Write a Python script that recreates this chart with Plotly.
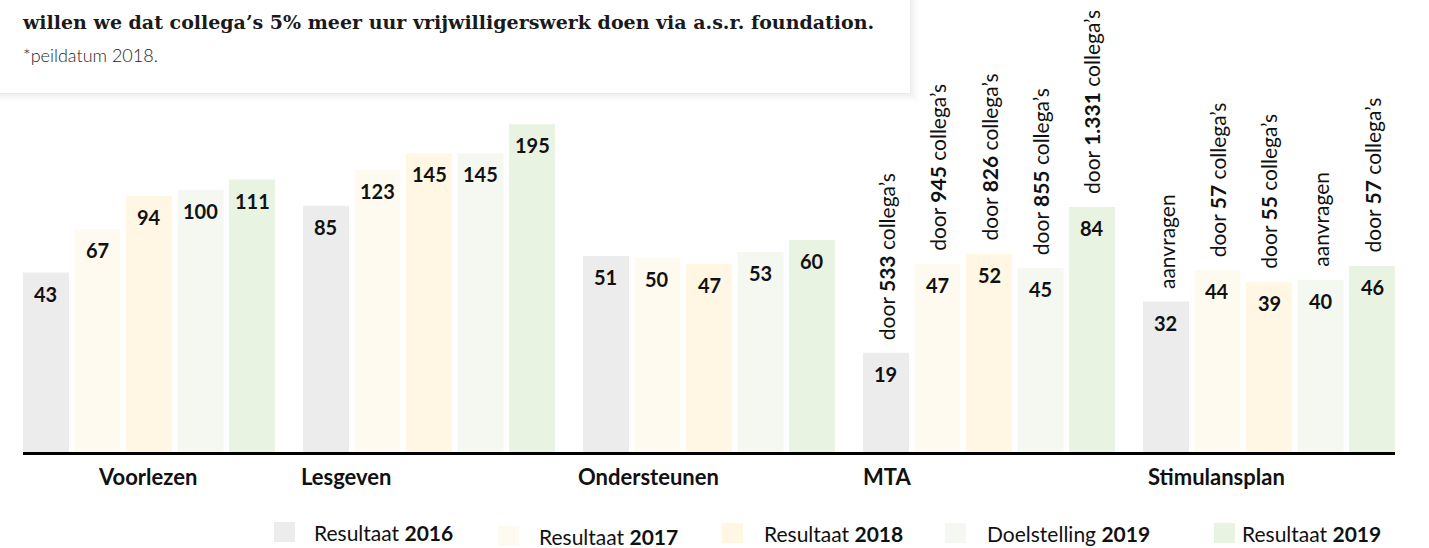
import math
import plotly.graph_objects as go

# ---------------- data ----------------
categories = ["Voorlezen", "Lesgeven", "Ondersteunen", "MTA", "Stimulansplan"]
series_names = ["Resultaat <b>2016</b>", "Resultaat <b>2017</b>", "Resultaat <b>2018</b>",
                "Doelstelling <b>2019</b>", "Resultaat <b>2019</b>"]
res_2016 = [43, 85, 51, 19, 32]
res_2017 = [67, 123, 50, 47, 44]
res_2018 = [94, 145, 47, 52, 39]
doel_2019 = [100, 145, 53, 45, 40]
res_2019 = [111, 195, 60, 84, 46]
mta_notes = ["door <b>533</b> collega’s", "door <b>945</b> collega’s", "door <b>826</b> collega’s",
             "door <b>855</b> collega’s", "door <b>1.331</b> collega’s"]
stim_notes = ["aanvragen", "door <b>57</b> collega’s", "door <b>55</b> collega’s",
              "aanvragen", "door <b>57</b> collega’s"]
header_text = "willen we dat collega’s 5% meer uur vrijwilligerswerk doen via a.s.r. foundation."
footnote_text = "*peildatum 2018."

series_values = [res_2016, res_2017, res_2018, doel_2019, res_2019]
colors = ["#ececec", "#fffaf0", "#fff6e4", "#f4f8f1", "#e9f3e1"]

# ---------------- layout constants ----------------
W, H = 1429, 548
ML, MR, MT, MB = 23, 34, 100, 96
PW, PH = W - ML - MR, H - MT - MB
BARGAP = 0.08
BARGROUPGAP = 0.107
NS = len(series_values)
slot = (1 - BARGAP) / NS


def px_x(px):
    return (px - ML) / PW


def px_y(py):
    return (H - MB - py) / PH


TEXT_FONT = "Lato"
INK = "#111111"

fig = go.Figure()
for name, vals, col in zip(series_names, series_values, colors):
    fig.add_trace(go.Bar(x=categories, y=vals, name=name, marker=dict(color=col, line=dict(width=0)),
                         hoverinfo="skip", showlegend=False))

annotations = []
shapes = []

# value labels inside bars
for j, vals in enumerate(series_values):
    for i, v in enumerate(vals):
        annotations.append(dict(
            x=i + (j - (NS - 1) / 2) * slot, y=math.log10(v), xref="x", yref="y",
            text=f"<b>{v}</b>", showarrow=False, yanchor="middle", xanchor="center",
            yshift=-21, font=dict(family=TEXT_FONT, size=20, color=INK)))

# rotated notes above bars
for ci, notes in ((3, mta_notes), (4, stim_notes)):
    for j, note in enumerate(notes):
        v = series_values[j][ci]
        annotations.append(dict(
            x=ci + (j - (NS - 1) / 2) * slot, y=math.log10(v), xref="x", yref="y",
            text=note, showarrow=False, textangle=-90, yanchor="bottom", xanchor="center",
            yshift=11, font=dict(family=TEXT_FONT, size=21, color=INK)))

# category labels
cat_label_px = [147, 346, 648, 887, 1216]
for name, cx in zip(categories, cat_label_px):
    annotations.append(dict(
        x=px_x(cx), y=px_y(476), xref="paper", yref="paper", text=f"<b>{name}</b>",
        showarrow=False, xanchor="center", yanchor="middle",
        font=dict(family=TEXT_FONT, size=22, color=INK)))

# manual legend (swatch + label)
legend_swatch_px = [274, 498, 722, 945, 1214]
legend_text_px = [312, 537, 762, 985, 1240]
legend_y_px = [532, 536, 533, 533, 533]
for name, col, sx, tx, ly in zip(series_names, colors, legend_swatch_px, legend_text_px, legend_y_px):
    shapes.append(dict(type="rect", xref="paper", yref="paper",
                       x0=px_x(sx), x1=px_x(sx + 21), y0=px_y(ly + 10), y1=px_y(ly - 10),
                       fillcolor=col, line=dict(width=0)))
    annotations.append(dict(
        x=px_x(tx), y=px_y(ly), xref="paper", yref="paper", text=name,
        showarrow=False, xanchor="left", yanchor="middle",
        font=dict(family=TEXT_FONT, size=21, color=INK)))

# header box text
annotations.append(dict(
    x=px_x(20), y=px_y(22), xref="paper", yref="paper", text=f"<b>{header_text}</b>",
    showarrow=False, xanchor="left", yanchor="middle",
    font=dict(family="DejaVu Serif", size=19, color="#1a1a1a")))
annotations.append(dict(
    x=px_x(21), y=px_y(55), xref="paper", yref="paper", text=footnote_text,
    showarrow=False, xanchor="left", yanchor="middle",
    font=dict(family=TEXT_FONT, size=18, color="#1e1e1e", weight=300)))

# soft shadow for the header box
for k, op in ((9, 0.008), (7, 0.012), (5, 0.016), (3, 0.02), (1, 0.025)):
    shapes.append(dict(type="rect", xref="paper", yref="paper",
                       x0=px_x(-10), x1=px_x(910 + k), y0=px_y(93 + k), y1=px_y(-10),
                       fillcolor=f"rgba(0,0,0,{op})", line=dict(width=0), layer="below"))
shapes.append(dict(type="rect", xref="paper", yref="paper",
                   x0=px_x(-10), x1=px_x(910), y0=px_y(93), y1=px_y(-10),
                   fillcolor="white", line=dict(width=0), layer="below"))

fig.update_layout(
    width=W, height=H,
    margin=dict(l=ML, r=MR, t=MT, b=MB, autoexpand=False),
    paper_bgcolor="white", plot_bgcolor="rgba(0,0,0,0)",
    barmode="group", bargap=BARGAP, bargroupgap=BARGROUPGAP,
    showlegend=False,
    xaxis=dict(type="category", range=[-0.45, 4.45], showline=True, linewidth=3, linecolor="black",
               showticklabels=False, ticks="", showgrid=False, zeroline=False, fixedrange=True),
    yaxis=dict(type="log", range=[0.839, 0.839 + PH / 225.8], visible=False, showgrid=False,
               fixedrange=True),
    annotations=annotations,
    shapes=shapes,
)

fig.write_html("out.html", config={"displayModeBar": False},
               post_script="document.body.style.margin='0px';")
